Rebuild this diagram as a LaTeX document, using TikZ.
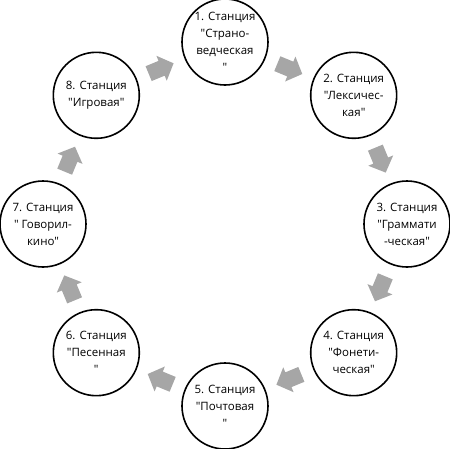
\documentclass[tikz,border=0pt]{standalone}
\usepackage{fontspec}
\setmainfont{Open Sans}[Ligatures=TeXOff]
\usetikzlibrary{calc}
\definecolor{ring}{HTML}{A6A6A6}

\begin{document}
\begin{tikzpicture}[x=1pt,y=1pt,
 station/.style={circle,draw=black,line width=1.6pt,fill=white,
 minimum size=86pt,inner sep=0pt,align=center,
 font=\fontsize{11.5}{17}\selectfont},
 flow/.pic={\fill[ring] (-13,-8) -- (1,-8) -- (1,-13.5) -- (14,0)
 -- (1,13.5) -- (1,8) -- (-13,8) -- cycle;}]
\useasboundingbox (-225,-224) rectangle (225,224);
\node[station] (s1) at (90:182) {1. Станция\\"Страно-\\ведческая\\"};
\node[station] (s2) at (45:182) {2. Станция\\"Лексичес-\\кая"};
\node[station] (s3) at (0:182) {3. Станция\\"Граммати\\-ческая"};
\node[station] (s4) at (-45:182) {4. Станция\\"Фонети-\\ческая"};
\node[station] (s5) at (-90:182) {5. Станция\\"Почтовая\\"};
\node[station] (s6) at (-135:182) {6. Станция\\"Песенная\\"};
\node[station] (s7) at (180:182) {7. Станция\\" Говорил-\\кино"};
\node[station] (s8) at (135:182) {8. Станция\\"Игровая"};
\pic[rotate=-22.5] at ($(s1)!0.5!(s2)$) {flow};
\pic[rotate=-67.5] at ($(s2)!0.5!(s3)$) {flow};
\pic[rotate=-112.5] at ($(s3)!0.5!(s4)$) {flow};
\pic[rotate=-157.5] at ($(s4)!0.5!(s5)$) {flow};
\pic[rotate=157.5] at ($(s5)!0.5!(s6)$) {flow};
\pic[rotate=112.5] at ($(s6)!0.5!(s7)$) {flow};
\pic[rotate=67.5] at ($(s7)!0.5!(s8)$) {flow};
\pic[rotate=22.5] at ($(s8)!0.5!(s1)$) {flow};
\end{tikzpicture}
\end{document}
